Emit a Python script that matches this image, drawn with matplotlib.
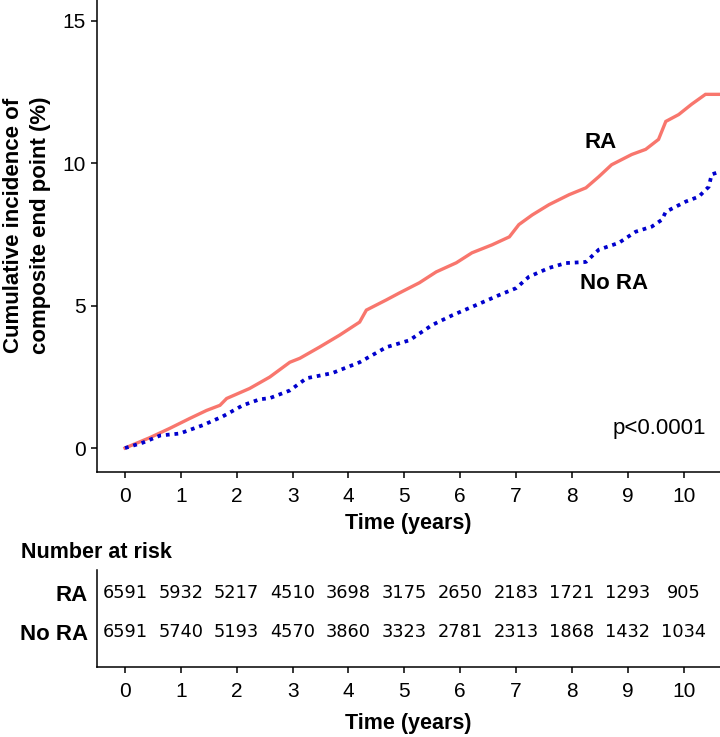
import matplotlib
matplotlib.use("Agg")
from matplotlib import pyplot as plt

plt.rcParams['font.family'] = ['Liberation Sans', 'DejaVu Sans']

# cumulative incidence (%)
ra_t = [0, 0.45, 0.80, 1.16, 1.46, 1.70, 1.82, 2.23, 2.59, 2.95, 3.13, 3.48, 3.84, 4.2,
        4.32, 4.68, 4.91, 5.27, 5.57, 5.93, 6.21, 6.57, 6.88, 7.05, 7.29, 7.59, 7.95,
        8.25, 8.48, 8.71, 9.07, 9.32, 9.55, 9.68, 9.91, 10.14, 10.39, 10.65]
ra_y = [0, 0.37, 0.69, 1.04, 1.32, 1.50, 1.74, 2.09, 2.49, 3.01, 3.15, 3.54, 3.96, 4.42,
        4.84, 5.20, 5.44, 5.80, 6.18, 6.50, 6.85, 7.13, 7.41, 7.84, 8.18, 8.54, 8.89,
        9.13, 9.52, 9.94, 10.30, 10.48, 10.83, 11.46, 11.70, 12.06, 12.41, 12.41]

nora_t = [0, 0.32, 0.63, 0.98, 1.39, 1.75, 2.11, 2.41, 2.59, 2.95, 3.25, 3.71, 4.2, 4.68,
          5.09, 5.5, 5.86, 6.29, 6.70, 7.0, 7.23, 7.59, 7.89, 8.25, 8.48, 8.84, 9.14,
          9.43, 9.61, 9.68, 10.04, 10.27, 10.45, 10.5, 10.65]
nora_y = [0, 0.19, 0.44, 0.51, 0.80, 1.11, 1.50, 1.71, 1.75, 2.02, 2.45, 2.63, 3.01, 3.54,
          3.78, 4.32, 4.66, 5.02, 5.37, 5.61, 6.01, 6.32, 6.49, 6.53, 6.96, 7.20, 7.59,
          7.77, 8.01, 8.29, 8.65, 8.82, 9.17, 9.60, 9.70]

risk_times = [0, 1, 2, 3, 4, 5, 6, 7, 8, 9, 10]
risk_ra = [6591, 5932, 5217, 4510, 3698, 3175, 2650, 2183, 1721, 1293, 905]
risk_nora = [6591, 5740, 5193, 4570, 3860, 3323, 2781, 2313, 1868, 1432, 1034]
groups = ['No RA', 'RA']

red = '#F8766D'
blue = '#0000CD'
W, H = 720, 737

fig = plt.figure(figsize=(W / 100, H / 100), dpi=100)

def px_axes(left, top, right, bottom):
    return fig.add_axes([left / W, 1 - bottom / H, (right - left) / W, (bottom - top) / H])

def style(ax, labelpad):
    for s in ['top', 'right']:
        ax.spines[s].set_visible(False)
    for s in ['left', 'bottom']:
        ax.spines[s].set_linewidth(1.1)
    ax.tick_params(length=4, width=1.1, labelsize=15, pad=6.5)
    ax.set_xlim(-0.51, 10.65)
    ax.set_xticks(risk_times)
    ax.set_xlabel('Time (years)', fontsize=15.5, fontweight='bold', labelpad=labelpad)

# main plot
ax = px_axes(96.5, 0, W, 472)
style(ax, 5)
ax.plot(ra_t, ra_y, color=red, lw=2.4, solid_joinstyle='miter')
ax.plot(nora_t, nora_y, color=blue, lw=2.7, linestyle=(0, (1, 1.3)), dash_capstyle='butt')
ax.set_ylim(-0.84, 15.72)
ax.set_yticks([0, 5, 10, 15])
ax.tick_params(axis='y', pad=4)
ax.text(8.52, 10.72, 'RA', fontsize=16, fontweight='bold', ha='center', va='center')
ax.text(8.75, 5.79, 'No RA', fontsize=16, fontweight='bold', ha='center', va='center')
ax.text(10.4, 0.7, 'p<0.0001', fontsize=16, ha='right', va='center')

fig.text(27 / W, 1 - 225 / H, 'Cumulative incidence of\ncomposite end point (%)',
         rotation=90, fontsize=16, fontweight='bold', ha='center', va='center',
         multialignment='center', linespacing=1.4)

# number at risk table
tab = px_axes(96.5, 570, W, 667)
style(tab, 9)
tab.set_ylim(-0.90, 1.59)
tab.set_yticks([0, 1])
tab.set_yticklabels(groups, fontsize=16, fontweight='bold')
tab.tick_params(axis='y', length=0, pad=6)
for t, a, b in zip(risk_times, risk_ra, risk_nora):
    tab.text(t, 1, str(a), ha='center', va='center', fontsize=12.8, family='DejaVu Sans')
    tab.text(t, 0, str(b), ha='center', va='center', fontsize=12.8, family='DejaVu Sans')
fig.text(21 / W, 1 - 553 / H, 'Number at risk', fontsize=15.5, fontweight='bold',
         ha='left', va='center')

fig.savefig('out.png', dpi=100)
